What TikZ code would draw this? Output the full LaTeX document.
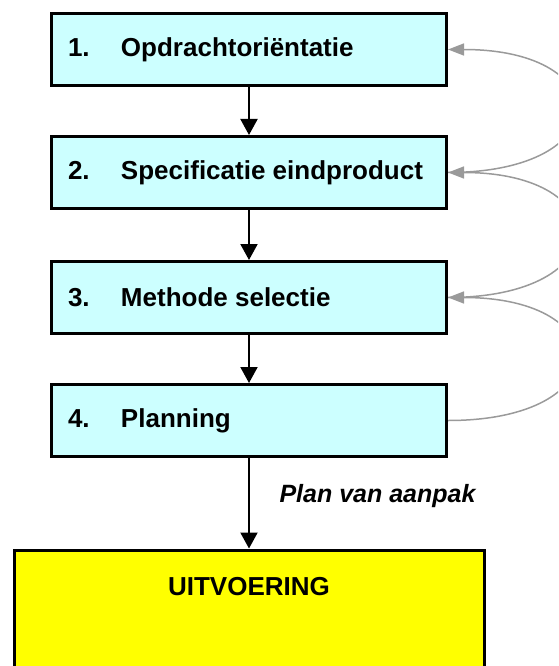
\documentclass[tikz,border=0pt]{standalone}
\usepackage{fontspec}
\setmainfont{Liberation Sans}
\usetikzlibrary{arrows.meta}
\definecolor{lightcyan}{HTML}{CCFFFF}
\definecolor{outyellow}{HTML}{FFFF00}
\definecolor{fbgray}{HTML}{9A9A9A}
\begin{document}
\begin{tikzpicture}[x=1pt,y=-1pt]
            \useasboundingbox (0,0) rectangle (558,666);
            \clip (0,0) rectangle (558,666);
            \tikzstyle{every node}=[font=\fontsize{26}{31}\selectfont\bfseries, text=black]
            \tikzstyle{stepbox}=[rectangle, draw=black, fill=lightcyan, line width=3pt, minimum width=395pt, minimum height=72pt, inner sep=0pt]
            \tikzstyle{down}=[black, line width=2pt, -{Triangle[width=17pt,length=16pt]}]
            \tikzstyle{back}=[fbgray, line width=1.5pt, -{Triangle[width=12pt,length=16pt]}]
            \newcommand{\stepnr}[2]{\makebox[362pt][l]{\makebox[53pt][l]{#1}#2}}

            \node[stepbox] (s1) at (249,49.5) {\stepnr{1.}{Opdrachtoriëntatie}};
            \node[stepbox] (s2) at (249,172.5) {\stepnr{2.}{Specificatie eindproduct}};
            \node[stepbox] (s3) at (249,297.5) {\stepnr{3.}{Methode selectie}};
            \node[stepbox] (s4) at (249,420.5) {\stepnr{4.}{Planning}};
            \node[rectangle, draw=black, fill=outyellow, line width=3pt, anchor=north, minimum width=470pt,
                  inner sep=0pt, text height=45pt, text depth=170pt] (uit) at (249,548.5) {UITVOERING};
            \node[anchor=west, font=\fontsize{25}{30}\selectfont\bfseries\itshape] (plan) at (276,496) {Plan van aanpak};

            \draw[down] (s1) -- (s2);
            \draw[down] (s2) -- (s3);
            \draw[down] (s3) -- (s4);
            \draw[down] (s4) -- (uit);

            \draw[back] (s4.east) .. controls +(170,0) and +(170,0) .. (s3.east);
            \draw[back] (s3.east) .. controls +(170,0) and +(170,0) .. (s2.east);
            \draw[back] (s2.east) .. controls +(170,0) and +(170,0) .. (s1.east);
        \end{tikzpicture}
\end{document}
